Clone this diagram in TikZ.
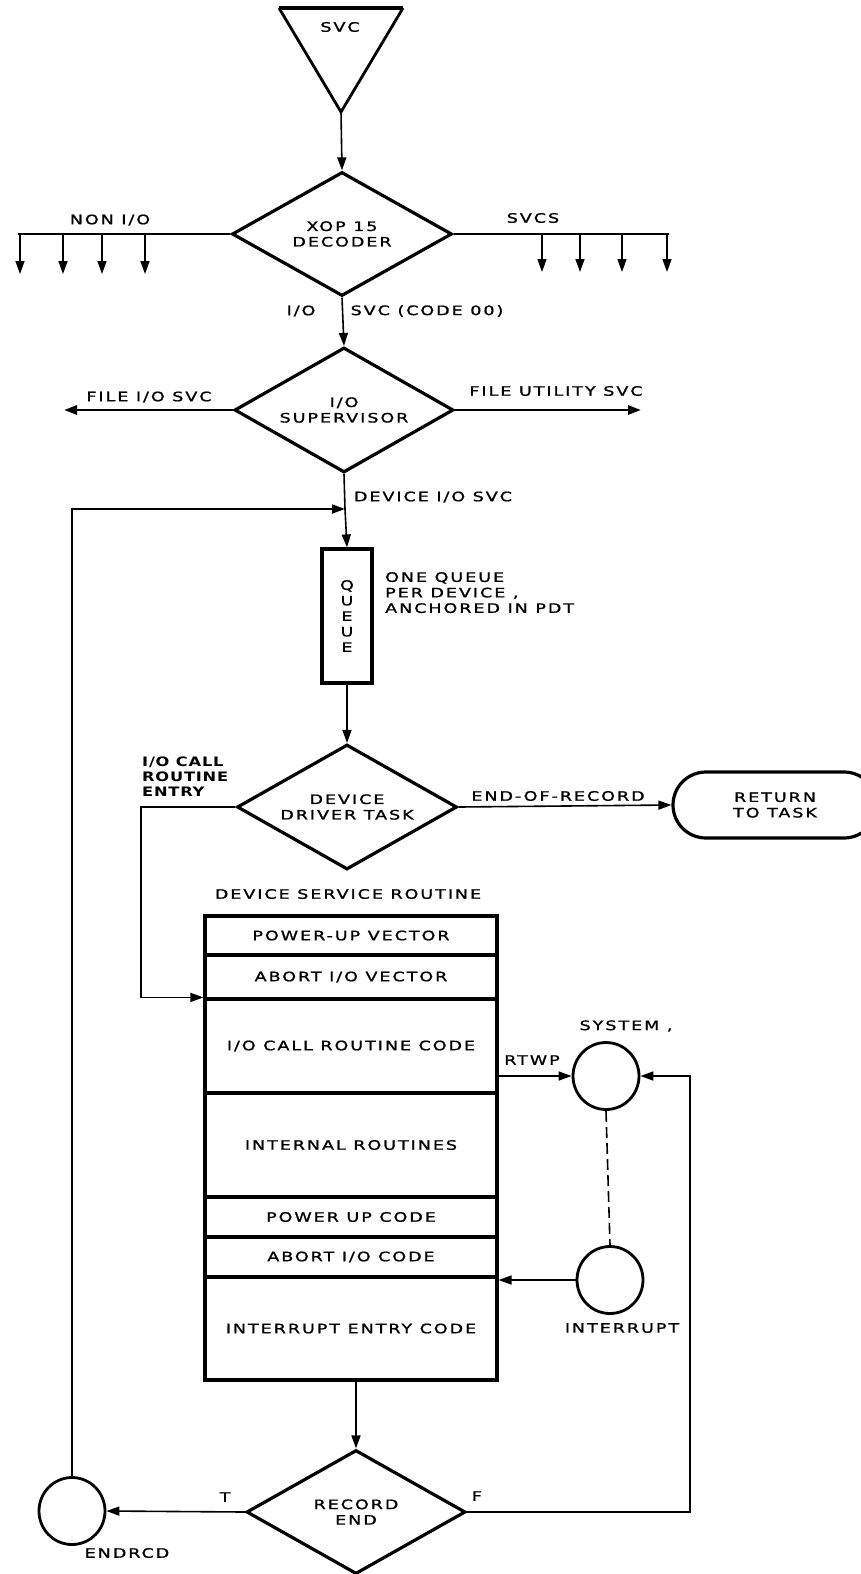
\documentclass[tikz,border=0pt]{standalone}
\usepackage{fontspec}
\setmainfont{DejaVu Sans}[FakeStretch=1.35,LetterSpace=15,FakeBold=1.2]
\newfontfamily\lblbold{DejaVu Sans Bold}[FakeStretch=1.25,LetterSpace=6]
\usetikzlibrary{shapes.geometric,arrows.meta,calc}
\begin{document}
\begin{tikzpicture}[x=1pt,y=-1pt,
  every node/.style={font=\fontsize{13}{15.5}\selectfont, inner sep=0pt},
  dia/.style={shape=diamond, draw, line width=3.2pt, inner sep=0pt, align=center, aspect=1.77},
  blk/.style={draw, line width=3.2pt, rectangle, minimum width=292pt, align=center},
  conn/.style={line width=1.6pt},
  heavy/.style={line width=2.8pt},
  arr/.style={-{Triangle[length=13pt,width=9pt]}},
  ring/.style={draw, ellipse, line width=2.8pt, minimum width=66pt, minimum height=67pt},
  boldlbl/.style={font=\fontsize{13}{15}\lblbold, align=left, anchor=north west}
]
\useasboundingbox (0,0) rectangle (860,1574);
\fill[white] (0,0) rectangle (860,1574);

% SVC triangle
\coordinate (tl) at (279,8);
\coordinate (tr) at (403,8);
\coordinate (apex) at (341,112);
\draw[line width=2.8pt, line join=miter] (tl) -- (apex) -- (tr);
\draw[line width=4.2pt] (tl) -- (tr);
\node (svc) at (340,27) {SVC};

% XOP 15 decoder
\node[dia, minimum width=220pt, minimum height=124pt] (xop) at (342,234) {XOP 15\\DECODER};
\draw[conn,arr] (apex) -- (xop.north);

% NON I/O bus
\coordinate (nl) at (18,234);
\draw[heavy] (xop.west) -- (nl);
\foreach \x [count=\i] in {20,63,102,145} {
  \coordinate (n\i) at (\x,234);
  \draw[conn,arr] (n\i) -- ++(0,40);
}
\node (nonio) at (110,220) {NON I/O};

% SVCS bus
\coordinate (sr) at (669,234);
\draw[heavy] (xop.east) -- (sr);
\foreach \x [count=\i] in {542,580,622,667} {
  \coordinate (s\i) at (\x,234);
  \draw[conn,arr] (s\i) -- ++(0,38);
}
\node (svcs) at (533,218) {SVCS};

\node (iolbl) at (301,311) {I/O};
\node (codelbl) at (427,311) {SVC (CODE 00)};

% I/O supervisor
\node[dia, minimum width=219pt, minimum height=125pt] (sup) at (344,410) {I/O\\SUPERVISOR};
\draw[conn,arr] (xop.south) -- (sup.north);
\coordinate (fio) at (64,410);
\draw[heavy,arr] (sup.west) -- (fio);
\node (fiolbl) at (149,397) {FILE I/O SVC};
\coordinate (fut) at (641,410);
\draw[heavy,arr] (sup.east) -- (fut);
\node (futlbl) at (556,391) {FILE UTILITY SVC};

% Queue
\node[draw, line width=3.2pt, minimum width=50pt, minimum height=134pt, align=center] (queue) at (347,616) {Q\\U\\E\\U\\E};
\coordinate (loopin) at (345,509);
\draw[conn] (sup.south) -- (loopin);
\draw[conn,arr] (loopin) -- (queue.north);
\node (devlbl) at (433,497) {DEVICE I/O SVC};
\node[anchor=north west, align=left] (note) at (385,572) {ONE QUEUE\\PER DEVICE ,\\ANCHORED IN PDT};

% Device driver task
\node[dia, minimum width=220pt, minimum height=125pt] (ddt) at (347,807) {DEVICE\\DRIVER TASK};
\draw[conn,arr] (queue.south) -- (ddt.north);
\node[draw, line width=3.2pt, rounded corners=33pt, minimum width=204pt, minimum height=66pt, align=center] (ret) at (775,805) {RETURN\\TO TASK};
\draw[conn,arr] (ddt.east) -- (ret.west);
\node (eorlbl) at (558,796) {END-OF-RECORD};
\node[boldlbl] (calllbl) at (142,757) {I/O CALL\\ROUTINE\\ENTRY};

% Device service routine
\node (dsrlbl) at (348,894) {DEVICE SERVICE ROUTINE};
\node[blk, minimum height=39pt] (r1) at (351,935.5) {POWER-UP VECTOR};
\node[blk, minimum height=44pt] (r2) at (351,977) {ABORT I/O VECTOR};
\node[blk, minimum height=94pt] (r3) at (351,1046) {I/O CALL ROUTINE CODE};
\node[blk, minimum height=104pt] (r4) at (351,1145) {INTERNAL ROUTINES};
\node[blk, minimum height=40pt] (r5) at (351,1217) {POWER UP CODE};
\node[blk, minimum height=40pt] (r6) at (351,1257) {ABORT I/O CODE};
\node[blk, minimum height=103pt] (r7) at (351,1328.5) {INTERRUPT ENTRY CODE};

\coordinate (cb) at (141,810);
\draw[conn,arr] (ddt.west) -- (ddt.west -| cb) |- (r3.north west);

% System and interrupt
\node[ring] (sys) at (606,1076) {};
\node (syslbl) at (626,1026) {SYSTEM ,};
\node[ring] (int) at (610,1280) {};
\node (intlbl) at (622,1328) {INTERRUPT};
\draw[conn,arr] (r3.east |- sys.west) -- (sys.west);
\node (rtwp) at (532,1060) {RTWP};
\draw[conn, dash pattern=on 11pt off 5pt] (sys.south) -- (int.north);
\draw[conn,arr] (int.west) -- (int.west -| r7.east);

% Record end
\node[dia, minimum width=219pt, minimum height=124pt] (re) at (356,1512) {RECORD\\END};
\draw[conn,arr] (re.north |- r7.south) -- (re.north);
\node[ring] (endr) at (72,1511) {};
\node (endlbl) at (127,1553) {ENDRCD};
\draw[conn,arr] (re.west) -- (endr.east);
\node (tlbl) at (225,1497) {T};
\node (flbl) at (477,1496) {F};
\draw[conn,line width=1.9pt,arr] (endr.north) |- (loopin);
\coordinate (fb) at (690,1509);
\draw[conn,arr] (re.east) -- (re.east -| fb) |- (sys.east);
\end{tikzpicture}
\end{document}
